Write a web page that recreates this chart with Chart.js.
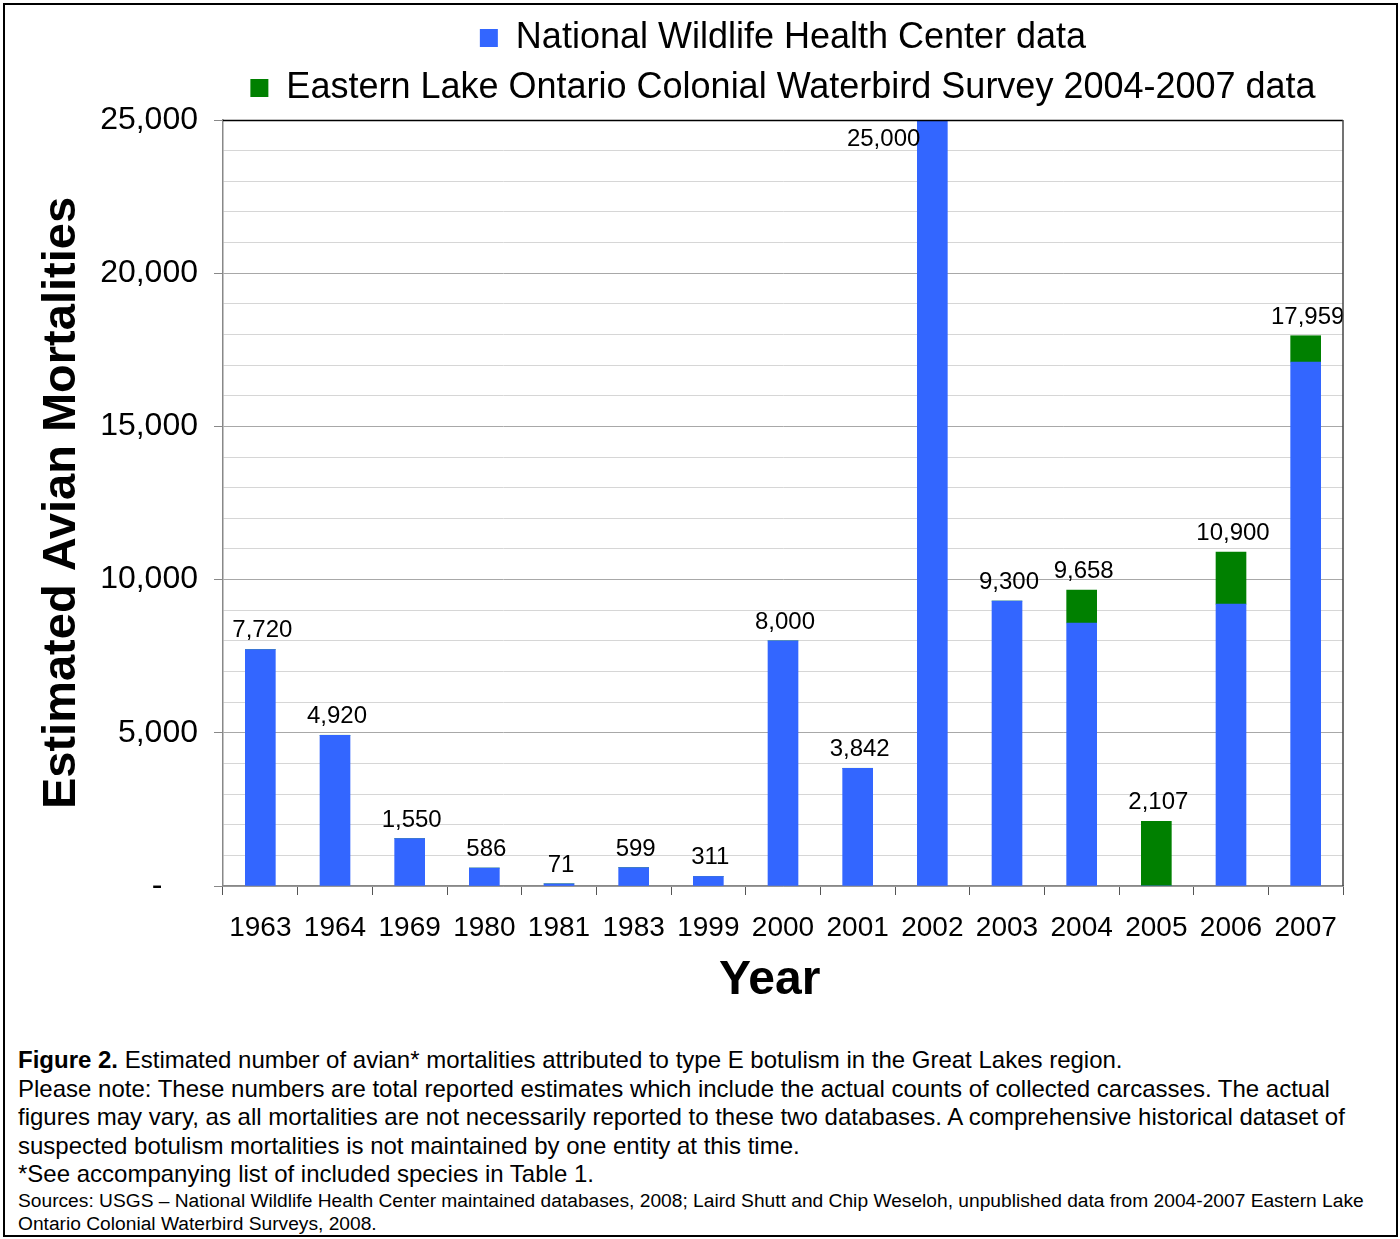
<!DOCTYPE html>
<html>
<head>
<meta charset="utf-8">
<script src="https://cdn.jsdelivr.net/npm/chart.js@4.4.1/dist/chart.umd.min.js"></script>
<style>
  body { margin: 0; background: #fff; font-family: "Liberation Sans", Arial, sans-serif; }
  #frame { position: absolute; left: 3px; top: 3px; width: 1395px; height: 1234px; border: 2px solid #000; box-sizing: border-box; }
  #wrap { position: absolute; left: 0; top: 0; width: 1400px; height: 1030px; }
  #caption { position: absolute; left: 18px; top: 1046px; color: #000; font-size: 24px; line-height: 28.6px; white-space: nowrap; }
  #caption .src { font-size: 19.2px; line-height: 23px; }
</style>
</head>
<body>
<div id="frame"></div>
<div id="wrap"><canvas id="barChart" width="1400" height="1030"></canvas></div>
<div id="caption">
  <div><b>Figure 2.</b> Estimated number of avian* mortalities attributed to type E botulism in the Great Lakes region.</div>
  <div>Please note: These numbers are total reported estimates which include the actual counts of collected carcasses. The actual<br>figures may vary, as all mortalities are not necessarily reported to these two databases. A comprehensive historical dataset of<br>suspected botulism mortalities is not maintained by one entity at this time.</div>
  <div>*See accompanying list of included species in Table 1.</div>
  <div class="src">Sources: USGS – National Wildlife Health Center maintained databases, 2008; Laird Shutt and Chip Weseloh, unpublished data from 2004-2007 Eastern Lake<br>Ontario Colonial Waterbird Surveys, 2008.</div>
</div>
<script>
var years = ['1963', '1964', '1969', '1980', '1981', '1983', '1999', '2000', '2001', '2002', '2003', '2004', '2005', '2006', '2007'];
var nwhcData = [7720, 4920, 1550, 586, 71, 599, 311, 8000, 3842, 25000, 9300, 8583, 0, 9200, 17102];
var elocwsData = [0, 0, 0, 0, 0, 0, 0, 0, 0, 0, 0, 1075, 2107, 1700, 857];
var totalLabels = ['7,720', '4,920', '1,550', '586', '71', '599', '311', '8,000', '3,842', '25,000', '9,300', '9,658', '2,107', '10,900', '17,959'];
var yTickLabels = { 0: '-    ', 5000: '5,000', 10000: '10,000', 15000: '15,000', 20000: '20,000', 25000: '25,000' };

var FONT = '"Liberation Sans", Arial, sans-serif';

// totals written above each stacked bar
var totalsPlugin = {
    id: 'totals',
    afterDatasetsDraw: function (chart) {
        var ctx = chart.ctx;
        var yScale = chart.scales.y;
        var metaA = chart.getDatasetMeta(0);
        ctx.save();
        ctx.font = '24px ' + FONT;
        ctx.fillStyle = '#000';
        ctx.textBaseline = 'alphabetic';
        years.forEach(function (yr, i) {
            var total = nwhcData[i] + elocwsData[i];
            var bar = metaA.data[i];
            var top = yScale.getPixelForValue(total);
            if (top - 30 < chart.chartArea.top) {
                ctx.textAlign = 'right';
                ctx.fillText(totalLabels[i], bar.x - bar.width / 2 + 3, top + 26);
            } else {
                ctx.textAlign = 'center';
                ctx.fillText(totalLabels[i], bar.x + 2, top - 12);
            }
        });
        ctx.restore();
    }
};

// top and right edges of the plot frame
var framePlugin = {
    id: 'frame',
    beforeLayout: function (chart) {
        // a little extra room under the legend
        var lg = chart.legend;
        if (lg && !lg._fitPatched) {
            var fit = lg.fit;
            lg.fit = function () { fit.call(this); this.height += 4; };
            lg._fitPatched = true;
        }
    },
    afterDraw: function (chart) {
        var a = chart.chartArea;
        var ctx = chart.ctx;
        ctx.save();
        ctx.lineWidth = 1.5;
        ctx.strokeStyle = '#000';
        ctx.beginPath();
        ctx.moveTo(a.left, a.top + 0.5);
        ctx.lineTo(a.right, a.top + 0.5);
        ctx.stroke();
        ctx.strokeStyle = '#444';
        ctx.beginPath();
        ctx.moveTo(a.right, a.top);
        ctx.lineTo(a.right, a.bottom);
        ctx.stroke();
        ctx.restore();
    }
};

var ctx = document.getElementById('barChart').getContext('2d');
var myChart = new Chart(ctx, {
    type: 'bar',
    data: {
        labels: years,
        datasets: [{
            label: 'National Wildlife Health Center data',
            data: nwhcData,
            backgroundColor: '#3366FF',
            barThickness: 30
        }, {
            label: 'Eastern Lake Ontario Colonial Waterbird Survey 2004-2007 data',
            data: elocwsData,
            backgroundColor: '#008000',
            barThickness: 30
        }]
    },
    options: {
        responsive: false,
        animation: false,
        layout: {
            padding: { left: 30, right: 57, top: 6, bottom: 20 }
        },
        scales: {
            x: {
                stacked: true,
                grid: {
                    drawOnChartArea: false,
                    tickLength: 9,
                    tickColor: '#555'
                },
                border: { color: '#888', width: 1.5 },
                ticks: {
                    color: '#000',
                    font: { family: FONT, size: 28 },
                    padding: 16,
                    maxRotation: 0,
                    autoSkip: false
                },
                title: {
                    display: true,
                    text: 'Year  ',
                    color: '#000',
                    font: { family: FONT, size: 48, weight: 'bold' },
                    padding: { top: 2, bottom: 0 }
                },
                afterFit: function (scale) { scale.height = 124; }
            },
            y: {
                stacked: true,
                min: 0,
                max: 25000,
                grid: {
                    color: function (c) { return c.tick && c.tick.value % 5000 === 0 ? '#a8a8a8' : '#d6d6d6'; },
                    tickColor: function (c) { return c.tick && c.tick.value % 5000 === 0 ? '#888' : 'rgba(0,0,0,0)'; },
                    tickLength: 9
                },
                border: { color: '#888', width: 1.5 },
                ticks: {
                    stepSize: 1000,
                    autoSkip: false,
                    color: '#000',
                    padding: 16,
                    font: { family: FONT, size: 32 },
                    callback: function (value) { return yTickLabels[value] !== undefined ? yTickLabels[value] : ''; }
                },
                title: {
                    display: true,
                    text: 'Estimated Avian Mortalities',
                    color: '#000',
                    font: { family: FONT, size: 47, weight: 'bold' },
                    padding: { bottom: 0 }
                },
                afterFit: function (scale) { scale.width = 193; }
            }
        },
        plugins: {
            legend: {
                display: true,
                position: 'top',
                align: 'center',
                fullSize: false,
                labels: {
                    color: '#000',
                    font: { family: FONT, size: 36 },
                    boxWidth: 18,
                    boxHeight: 18,
                    padding: 14
                }
            },
            tooltip: { enabled: false }
        }
    },
    plugins: [totalsPlugin, framePlugin]
});
</script>
</body>
</html>
